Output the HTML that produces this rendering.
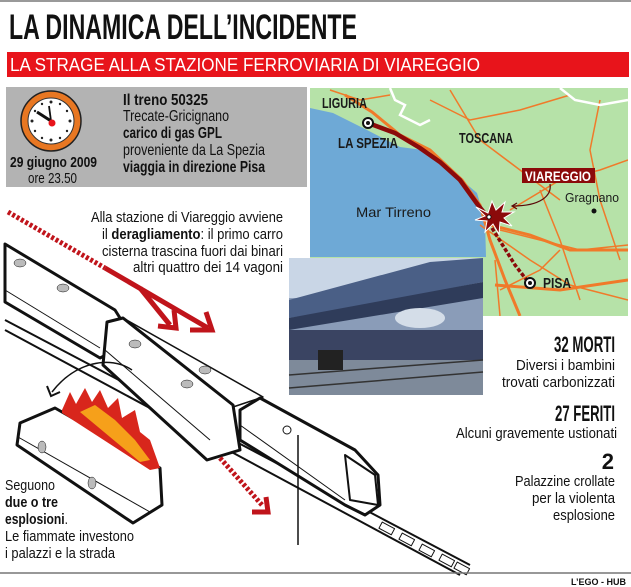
<!DOCTYPE html>
<html><head><meta charset="utf-8"><style>
body{margin:0;width:631px;height:587px;background:#fff;overflow:hidden;font-family:"Liberation Sans",sans-serif;}
svg{position:absolute;left:0;top:0}
</style></head><body>
<svg width="631" height="587" viewBox="0 0 631 587" xmlns="http://www.w3.org/2000/svg">
<line x1="0" y1="1" x2="631" y2="1" stroke="#999" stroke-width="2"/>
<text x="9" y="39" font-weight="bold" font-size="35" textLength="348" lengthAdjust="spacingAndGlyphs" fill="#111">LA DINAMICA DELL’INCIDENTE</text>
<rect x="7" y="52" width="622" height="25" fill="#e8141b"/>
<text x="10" y="71" font-size="18" fill="#fff" textLength="470" lengthAdjust="spacingAndGlyphs">LA STRAGE ALLA STAZIONE FERROVIARIA DI VIAREGGIO</text>
<rect x="6" y="87" width="301" height="100" fill="#b3b3b3"/>
<circle cx="51" cy="121" r="30" fill="#e87722" stroke="#222" stroke-width="1.5"/>
<circle cx="51" cy="121" r="23" fill="#fff" stroke="#333" stroke-width="1"/>
<g fill="#222"><circle cx="51" cy="102" r="1.5"/><circle cx="51" cy="140" r="1.5"/><circle cx="32" cy="121" r="1.5"/><circle cx="70" cy="121" r="1.5"/><circle cx="60" cy="104" r="1.2"/><circle cx="67" cy="111" r="1.2"/><circle cx="67" cy="131" r="1.2"/><circle cx="60" cy="138" r="1.2"/><circle cx="42" cy="138" r="1.2"/><circle cx="35" cy="131" r="1.2"/><circle cx="35" cy="111" r="1.2"/><circle cx="42" cy="104" r="1.2"/></g>
<line x1="51" y1="121" x2="37" y2="112" stroke="#111" stroke-width="3"/>
<line x1="51" y1="121" x2="49" y2="106" stroke="#111" stroke-width="1.8"/>
<circle cx="52" cy="123" r="3.5" fill="#e8141b"/>
<text x="10" y="167" font-size="15" font-weight="bold" fill="#111" textLength="87" lengthAdjust="spacingAndGlyphs">29 giugno 2009</text>
<text x="28" y="183" font-size="15" fill="#111" textLength="49" lengthAdjust="spacingAndGlyphs">ore 23.50</text>
<g font-size="16" fill="#111">
<text x="123" y="105" font-weight="bold" textLength="85" lengthAdjust="spacingAndGlyphs">Il treno 50325</text>
<text x="123" y="121" textLength="106" lengthAdjust="spacingAndGlyphs">Trecate-Gricignano</text>
<text x="123" y="138" font-weight="bold" textLength="99" lengthAdjust="spacingAndGlyphs">carico di gas GPL</text>
<text x="123" y="155" textLength="142" lengthAdjust="spacingAndGlyphs">proveniente da La Spezia</text>
<text x="123" y="172" font-weight="bold" textLength="142" lengthAdjust="spacingAndGlyphs">viaggia in direzione Pisa</text>
</g>
<clipPath id="mc"><rect x="310" y="88" width="318" height="228"/></clipPath>
<g clip-path="url(#mc)">
<rect x="310" y="88" width="318" height="228" fill="#b6e2a8"/>
<path d="M310,108 L333,113 L367,130 L400,147 L423,150 L450,170 L477,193 L485,220 L486,257 L310,257 Z" fill="#6ea9d6"/>
<g fill="none" stroke="#f07a2a" stroke-width="1.5">
<path d="M500,230 L540,240 L580,250 L628,245"/>
<path d="M480,225 L530,260 L570,285 L628,300"/>
<path d="M510,210 L560,180 L600,170 L628,160"/>
<path d="M430,100 L470,120 L520,110 L570,95"/>
<path d="M540,190 L560,240 L580,300"/>
<path d="M600,100 L590,150 L600,200 L620,260"/>
<path d="M450,90 L480,140 L520,170 L560,200"/>
<path d="M500,290 L540,270 L560,250"/>
<path d="M330,90 L360,100 L390,95"/>
<path d="M495,260 L500,316"/>
</g>
<g fill="none" stroke="#f07a2a" stroke-width="3">
<path d="M345,95 L372,112 L400,135 L430,150 L462,180 L480,205 L490,240 L505,280 L520,316"/>
<path d="M490,225 L530,235 L570,250 L628,250"/>
<path d="M495,285 L560,290 L628,280"/>
</g>
<path d="M390,88 L395,100 L405,105 L400,115 L420,125 L430,120" fill="none" stroke="#fff" stroke-width="2.5"/>
<path d="M560,88 L575,100 L600,105 L628,100" fill="none" stroke="#fff" stroke-width="2.5"/>
<path d="M368,123 L395,133 L420,148 L440,162 L460,180 L478,205 L486,215" fill="none" stroke="#8b0a0a" stroke-width="4.5"/>
<path d="M492,228 L515,265 L529,283" fill="none" stroke="#8b0a0a" stroke-width="3.5" stroke-dasharray="4,2"/>
<polygon points="488,213 492,201 496,210 505,202 502,212 514,212 504,218 512,226 500,222 499,234 493,224 485,232 487,221 475,220 485,216 476,207" fill="#8b0a0a" stroke="#fff" stroke-width="1"/>
<circle cx="489" cy="217" r="2" fill="#fff" stroke="#000" stroke-width="0.8"/>
<circle cx="368" cy="123" r="5" fill="#fff" stroke="#111" stroke-width="2"/><circle cx="368" cy="123" r="2" fill="#111"/>
<circle cx="530" cy="283" r="5" fill="#fff" stroke="#111" stroke-width="2"/><circle cx="530" cy="283" r="2" fill="#111"/>
<circle cx="594" cy="211" r="2.5" fill="#111"/>
<path d="M550,184 C552,196 540,206 513,206" fill="none" stroke="#5a0808" stroke-width="1.2"/>
<path d="M517,203 L512,206 L517,209" fill="none" stroke="#5a0808" stroke-width="1.2"/>
<rect x="522" y="168" width="73" height="15" fill="#8b0a0a"/>
<text x="558" y="181" font-size="14" font-weight="bold" fill="#fff" text-anchor="middle" textLength="66" lengthAdjust="spacingAndGlyphs">VIAREGGIO</text>
<g font-weight="bold" fill="#1a1a1a" font-size="15">
<text x="322" y="108" textLength="45" lengthAdjust="spacingAndGlyphs">LIGURIA</text>
<text x="338" y="148" textLength="60" lengthAdjust="spacingAndGlyphs">LA SPEZIA</text>
<text x="459" y="143" textLength="54" lengthAdjust="spacingAndGlyphs">TOSCANA</text>
<text x="543" y="288" textLength="28" lengthAdjust="spacingAndGlyphs">PISA</text>
</g>
<text x="356" y="217" font-size="14" fill="#1a1a1a" textLength="75" lengthAdjust="spacingAndGlyphs">Mar Tirreno</text>
<text x="565" y="202" font-size="13" fill="#1a1a1a" textLength="54" lengthAdjust="spacingAndGlyphs">Gragnano</text>
</g>
<rect x="289" y="258" width="194" height="137" fill="#8a9cb8"/>
<rect x="289" y="258" width="194" height="40" fill="#c9d6e6"/>
<polygon points="289,300 430,262 483,258 483,282 340,310 289,318" fill="#4a5f86"/>
<polygon points="289,318 483,282 483,298 289,330" fill="#2f3c5a"/>
<rect x="289" y="330" width="194" height="30" fill="#3a4462"/>
<ellipse cx="420" cy="318" rx="25" ry="10" fill="#d4dde8"/>
<rect x="289" y="360" width="194" height="35" fill="#7e8a9a"/>
<g stroke="#333" stroke-width="1.5"><line x1="289" y1="375" x2="483" y2="360"/><line x1="289" y1="388" x2="483" y2="372"/></g>
<rect x="318" y="350" width="25" height="20" fill="#222"/>
<g stroke="#111" stroke-linejoin="round">
<path d="M5,320 L470,565" fill="none" stroke-width="2"/>
<path d="M5,330 L460,575" fill="none" stroke-width="2"/>
<g stroke-width="1" fill="#fff">
<rect x="380" y="525" width="14" height="7" transform="rotate(28 387 528)"/>
<rect x="400" y="536" width="14" height="7" transform="rotate(28 407 539)"/>
<rect x="420" y="547" width="14" height="7" transform="rotate(28 427 550)"/>
<rect x="440" y="557" width="14" height="7" transform="rotate(28 447 560)"/>
<rect x="455" y="565" width="14" height="7" transform="rotate(28 462 568)"/>
</g>
<polygon points="5,244 115,310 120,318 112,352 100,358 5,302" fill="#fff" stroke-width="3"/>
<line x1="5" y1="290" x2="100" y2="348" stroke-width="1"/>
<ellipse cx="20" cy="263" rx="6" ry="4" fill="#bbb" stroke-width="0.5"/>
<ellipse cx="63" cy="288" rx="6" ry="4" fill="#bbb" stroke-width="0.5"/>
<polygon points="123,318 263,397 233,407" fill="#fff" stroke-width="1.5"/>
<polygon points="107,322 123,318 233,405 240,450 207,460 103,365" fill="#fff" stroke-width="3"/>
<line x1="105" y1="350" x2="210" y2="440" stroke-width="1"/>
<ellipse cx="135" cy="344" rx="6" ry="4" fill="#bbb" stroke-width="0.5"/>
<ellipse cx="187" cy="384" rx="6" ry="4" fill="#bbb" stroke-width="0.5"/>
<ellipse cx="205" cy="370" rx="6" ry="4" fill="#bbb" stroke-width="0.5"/>
<polygon points="240,410 260,398 355,450 378,475 380,505 365,515 345,505 240,440" fill="#fff" stroke-width="3"/>
<polygon points="345,455 375,475 378,505 350,500" fill="#fff" stroke-width="2"/>
<line x1="240" y1="425" x2="345" y2="500" stroke-width="1"/>
<polygon points="20,423 55,408 160,468 162,505 133,523 17,445" fill="#fff" stroke-width="3"/>
<line x1="18" y1="437" x2="150" y2="512" stroke-width="1"/>
<ellipse cx="42" cy="447" rx="4" ry="6" fill="#bbb" stroke-width="0.5"/>
<ellipse cx="92" cy="483" rx="4" ry="6" fill="#bbb" stroke-width="0.5"/>
<line x1="298" y1="435" x2="298" y2="545" stroke-width="1.5"/>
<circle cx="287" cy="430" r="4" fill="#fff" stroke-width="1"/>
</g>
<path d="M62,410 L70,392 L76,404 L85,388 L92,402 L100,390 L108,408 L118,398 L122,418 L135,410 L140,432 L150,440 L160,468 L150,470 L62,413 Z" fill="#d8261c"/>
<path d="M80,412 L95,405 L115,420 L135,440 L150,460 L140,462 Z" fill="#f6a01a"/>
<path d="M132,370 C110,355 75,362 52,392" fill="none" stroke="#111" stroke-width="1.5"/>
<path d="M47,386 L51,396 L60,392" fill="none" stroke="#111" stroke-width="2"/>
<path d="M8,212 L105,268" stroke="#c0141b" stroke-width="5" stroke-dasharray="3,2"/>
<path d="M105,268 L208,328" stroke="#c0141b" stroke-width="5"/>
<path d="M140,288 L170,325" stroke="#c0141b" stroke-width="5"/>
<path d="M190,330 L212,330 L206,312" fill="none" stroke="#c0141b" stroke-width="5"/>
<path d="M158,326 L176,328 L174,310" fill="none" stroke="#c0141b" stroke-width="5"/>
<path d="M220,458 L262,505" stroke="#c0141b" stroke-width="5" stroke-dasharray="3,2"/>
<path d="M252,512 L268,512 L266,497" fill="none" stroke="#c0141b" stroke-width="5"/>
<g font-size="15" fill="#111" text-anchor="end">
<text x="283" y="222" textLength="192" lengthAdjust="spacingAndGlyphs">Alla stazione di Viareggio avviene</text>
<text x="283" y="239" textLength="181" lengthAdjust="spacingAndGlyphs">il <tspan font-weight="bold">deragliamento</tspan>: il primo carro</text>
<text x="283" y="256" textLength="181" lengthAdjust="spacingAndGlyphs">cisterna trascina fuori dai binari</text>
<text x="283" y="272" textLength="150" lengthAdjust="spacingAndGlyphs">altri quattro dei 14 vagoni</text>
<text x="615" y="352" font-size="22" font-weight="bold" textLength="61" lengthAdjust="spacingAndGlyphs">32 MORTI</text>
<text x="615" y="370" textLength="99" lengthAdjust="spacingAndGlyphs">Diversi i bambini</text>
<text x="615" y="387" textLength="113" lengthAdjust="spacingAndGlyphs">trovati carbonizzati</text>
<text x="615" y="421" font-size="22" font-weight="bold" textLength="60" lengthAdjust="spacingAndGlyphs">27 FERITI</text>
<text x="617" y="438" textLength="161" lengthAdjust="spacingAndGlyphs">Alcuni gravemente ustionati</text>
<text x="614" y="469" font-size="22" font-weight="bold">2</text>
<text x="615" y="486" textLength="100" lengthAdjust="spacingAndGlyphs">Palazzine crollate</text>
<text x="615" y="503" textLength="83" lengthAdjust="spacingAndGlyphs">per la violenta</text>
<text x="615" y="520" textLength="62" lengthAdjust="spacingAndGlyphs">esplosione</text>
</g>
<g font-size="15" fill="#111">
<text x="5" y="490" textLength="50" lengthAdjust="spacingAndGlyphs">Seguono</text>
<text x="5" y="507" font-weight="bold" textLength="53" lengthAdjust="spacingAndGlyphs">due o tre</text>
<text x="5" y="524" textLength="63" lengthAdjust="spacingAndGlyphs"><tspan font-weight="bold">esplosioni</tspan>.</text>
<text x="5" y="541" textLength="129" lengthAdjust="spacingAndGlyphs">Le fiammate investono</text>
<text x="5" y="558" textLength="110" lengthAdjust="spacingAndGlyphs">i palazzi e la strada</text>
</g>
<line x1="0" y1="573" x2="631" y2="573" stroke="#777" stroke-width="1.5"/>
<text x="626" y="585" font-size="9" font-weight="bold" text-anchor="end" fill="#111">L’EGO - HUB</text>
</svg>
</body></html>
